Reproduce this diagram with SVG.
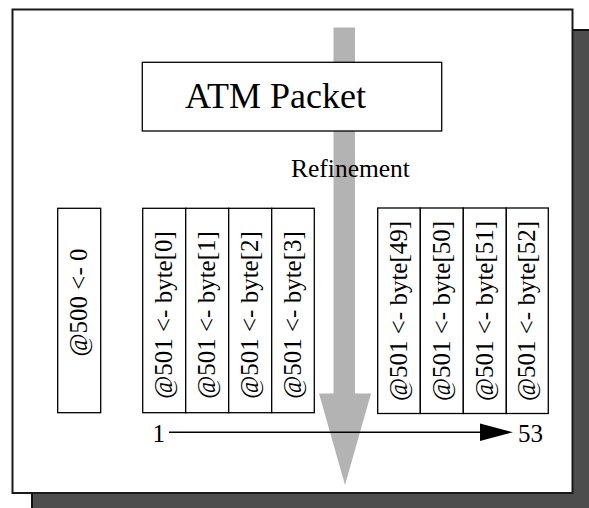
<svg xmlns="http://www.w3.org/2000/svg" width="589" height="508" viewBox="0 0 589 508">
  <style>
    .frame { fill: #ffffff; stroke: #1a1a1a; stroke-width: 2; }
    .shadow { fill: #4d4d4d; stroke: #111111; stroke-width: 2; }
    .cell { fill: #ffffff; stroke: #000000; stroke-width: 1.3; }
    .lbl { font-family: "Liberation Serif", "Times New Roman", serif; fill: #000000; }
    .vt { font-size: 25px; text-anchor: middle; }
    .flow { fill: #b3b3b3; }
    .axis { stroke: #000000; stroke-width: 1.5; fill: none; }
  </style>

  <!-- page with drop shadow -->
  <rect class="shadow" x="32" y="30" width="570" height="490"/>
  <rect class="frame" x="12.5" y="9.5" width="560" height="483.5"/>

  <!-- refinement flow arrow (behind the packet box) -->
  <g id="refinement-arrow">
    <polygon class="flow" points="333.5,27.5 355,27.5 355,393.5 371,393.5 345,485 319,393.5 333.5,393.5"/>
  </g>

  <g id="atm-packet">
    <rect class="cell" x="142.3" y="62.3" width="299.4" height="68.7"/>
    <text class="lbl" x="185" y="108.3" font-size="36">ATM Packet</text>
  </g>

  <g id="refinement-label">
    <text class="lbl" x="291" y="177.3" font-size="25.5">Refinement</text>
  </g>

  <g id="header-cell">
    <rect class="cell" x="57.7" y="208.3" width="43" height="204.4"/>
    <text class="lbl vt" transform="translate(86.5,302.5) rotate(-90)">@500 &lt;- 0</text>
  </g>

  <g id="bytes-first">
    <g id="byte-0">
      <rect class="cell" x="142.7" y="208.3" width="43" height="204.4"/>
      <text class="lbl vt" transform="translate(172.2,315) rotate(-90)">@501 &lt;- byte[0]</text>
    </g>
    <g id="byte-1">
      <rect class="cell" x="185.7" y="208.3" width="43" height="204.4"/>
      <text class="lbl vt" transform="translate(215.2,315) rotate(-90)">@501 &lt;- byte[1]</text>
    </g>
    <g id="byte-2">
      <rect class="cell" x="228.7" y="208.3" width="43" height="204.4"/>
      <text class="lbl vt" transform="translate(258.2,315) rotate(-90)">@501 &lt;- byte[2]</text>
    </g>
    <g id="byte-3">
      <rect class="cell" x="271.7" y="208.3" width="42.6" height="204.4"/>
      <text class="lbl vt" transform="translate(301,315) rotate(-90)">@501 &lt;- byte[3]</text>
    </g>
  </g>

  <g id="bytes-last">
    <g id="byte-49">
      <rect class="cell" x="377.7" y="208" width="42.6" height="205.5"/>
      <text class="lbl vt" transform="translate(407,311) rotate(-90)">@501 &lt;- byte[49]</text>
    </g>
    <g id="byte-50">
      <rect class="cell" x="420.3" y="208" width="43" height="205.5"/>
      <text class="lbl vt" transform="translate(449.8,311) rotate(-90)">@501 &lt;- byte[50]</text>
    </g>
    <g id="byte-51">
      <rect class="cell" x="463.3" y="208" width="43" height="205.5"/>
      <text class="lbl vt" transform="translate(492.8,311) rotate(-90)">@501 &lt;- byte[51]</text>
    </g>
    <g id="byte-52">
      <rect class="cell" x="506.3" y="208" width="42" height="205.5"/>
      <text class="lbl vt" transform="translate(535.3,311) rotate(-90)">@501 &lt;- byte[52]</text>
    </g>
  </g>

  <!-- index axis 1 .. 53 -->
  <g id="connectors">
    <line class="axis" x1="169" y1="432.3" x2="481" y2="432.3"/>
    <polygon points="480,423.5 513,432.3 480,441" fill="#000000"/>
  </g>
  <g id="axis-labels">
    <text class="lbl" x="152.5" y="441.7" font-size="25">1</text>
    <text class="lbl" x="518" y="441.7" font-size="25">53</text>
  </g>
</svg>
